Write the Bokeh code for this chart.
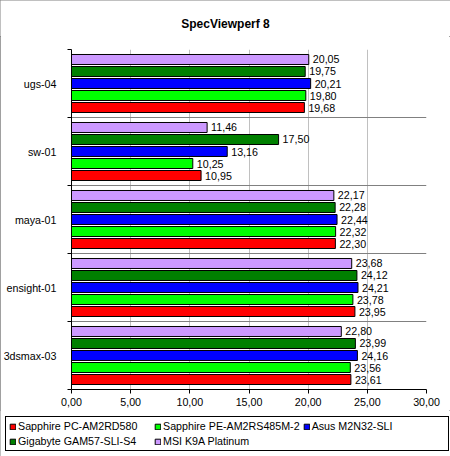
import numpy as np
from bokeh.plotting import figure
from bokeh.layouts import column
from bokeh.models import (Range1d, FixedTicker, Legend, LegendItem, Label,
                          ColumnDataSource)
from bokeh.core.properties import value
from bokeh.embed import file_html
from bokeh.resources import INLINE

# ---- data (categories listed bottom to top) ----
categories = ["3dsmax-03", "ensight-01", "maya-01", "sw-01", "ugs-04"]
series_names = ["Sapphire PC-AM2RD580", "Sapphire PE-AM2RS485M-2",
                "Asus M2N32-SLI", "Gigabyte GAM57-SLI-S4", "MSI K9A Platinum"]
sapphire_pc = [23.61, 23.95, 22.30, 10.95, 19.68]
sapphire_pe = [23.56, 23.78, 22.32, 10.25, 19.80]
asus = [24.16, 24.21, 22.44, 13.16, 20.21]
gigabyte = [23.99, 24.12, 22.28, 17.50, 19.75]
msi = [22.80, 23.68, 22.17, 11.46, 20.05]
x_ticks = [0, 5, 10, 15, 20, 25, 30]
x_tick_labels = ["0,00", "5,00", "10,00", "15,00", "20,00", "25,00", "30,00"]
title_text = "SpecViewperf 8"

series_values = [sapphire_pc, sapphire_pe, asus, gigabyte, msi]
colors = ["#ff0000", "#00ff00", "#0000ff", "#008000", "#cc99ff"]

FONT = "Liberation Sans"
FS = "10.7px"
W = 450
H_TITLE, H_MAIN, H_LEG = 36, 374, 46


def strip(height):
    f = figure(width=W, height=height, output_backend="svg",
               toolbar_location=None,
               x_range=Range1d(0, W), y_range=Range1d(0, height),
               x_axis_location=None, y_axis_location=None,
               min_border_left=0, min_border_right=0, min_border_top=0,
               min_border_bottom=0)
    f.frame_align = False
    f.grid.visible = False
    f.outline_line_color = None
    f.background_fill_color = "white"
    f.border_fill_color = "white"
    return f


# ---- title strip ----
tf = strip(H_TITLE)
tf.add_layout(Label(x=W / 2, y=H_TITLE - 23, text=title_text,
                    text_align="center", text_baseline="middle",
                    text_font=FONT, text_font_size="12px",
                    text_font_style="bold", text_color="black"))

# ---- main chart ----
p = figure(width=W, height=H_MAIN, output_backend="svg", toolbar_location=None,
           x_range=Range1d(0, 30), y_range=Range1d(0, len(categories)),
           min_border_left=70, min_border_right=24, min_border_top=13,
           min_border_bottom=21)
p.frame_align = False
p.outline_line_color = None
p.background_fill_color = "white"
p.border_fill_color = "white"

pitch = 0.1765
bar_h = 0.147
centers = np.arange(len(categories)) + 0.5

for i, (vals, col) in enumerate(zip(series_values, colors)):
    ys = centers + (i - 2) * pitch
    src = ColumnDataSource(dict(y=ys, right=vals,
                                lab=[f"{v:.2f}".replace(".", ",") for v in vals]))
    p.hbar(y="y", right="right", left=0, height=bar_h, source=src,
           fill_color=col, line_color="black", line_width=1)
    p.text(x="right", y="y", text="lab", source=src, x_offset=4,
           text_font=value(FONT), text_font_size=FS, text_color="black",
           text_baseline="middle", text_align="left")

# x axis
xa = p.xaxis[0]
xa.ticker = FixedTicker(ticks=x_ticks, minor_ticks=[])
xa.major_label_overrides = {t: l for t, l in zip(x_ticks, x_tick_labels)}
xa.major_tick_out = 4
xa.major_tick_in = 0
xa.major_label_standoff = 4
xa.axis_line_color = "black"
xa.major_tick_line_color = "black"
xa.major_label_text_font = FONT
xa.major_label_text_font_size = FS
xa.major_label_text_color = "black"

# y axis
ya = p.yaxis[0]
ya.ticker = FixedTicker(ticks=list(centers),
                        minor_ticks=list(range(len(categories) + 1)))
ya.major_label_overrides = {float(c): n for c, n in zip(centers, categories)}
ya.major_tick_out = 0
ya.major_tick_in = 0
ya.minor_tick_out = 4
ya.minor_tick_in = 0
ya.minor_tick_line_color = "black"
ya.axis_line_color = "black"
ya.major_label_standoff = 11
ya.major_label_text_font = FONT
ya.major_label_text_font_size = FS
ya.major_label_text_color = "black"

# grids
p.xgrid.ticker = FixedTicker(ticks=x_ticks[1:])
p.xgrid.grid_line_color = "#c0c0c0"
p.ygrid.ticker = FixedTicker(ticks=list(range(1, len(categories))))
p.ygrid.grid_line_color = "#808080"

# ---- legend strip ----
lf = strip(H_LEG)
items = []
for name, col in zip(series_names, colors):
    r = lf.hbar(y=[1], right=[1], left=0, height=1, visible=False,
                fill_color=col, line_color="black", line_width=1)
    items.append(LegendItem(label=name, renderers=[r]))

legend = Legend(items=items, orientation="horizontal", ncols=3,
                location=(5, 5), glyph_width=7, glyph_height=7,
                label_height=12, label_standoff=2, label_width=133,
                spacing=3, padding=3, margin=0,
                inactive_fill_alpha=0,
                label_text_font=FONT, label_text_font_size=FS,
                label_text_color="black", label_text_baseline="middle",
                border_line_color="black", border_line_width=1,
                border_line_alpha=1,
                background_fill_color="white", background_fill_alpha=1)
lf.add_layout(legend, "center")

layout = column(tf, p, lf, spacing=0,
                styles={"outline": "1px solid #808080", "outline-offset": "-1px"})

open("out.html", "w").write(file_html(layout, INLINE))
